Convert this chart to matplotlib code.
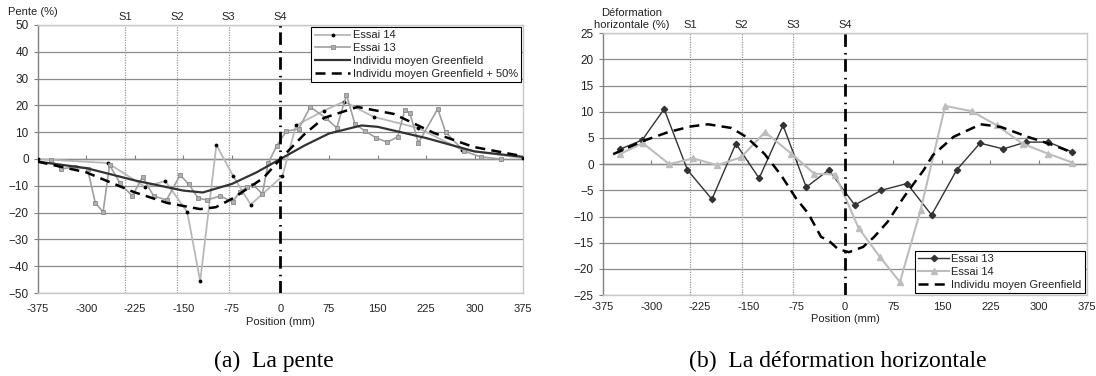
import matplotlib
matplotlib.use('Agg')
import matplotlib.pyplot as plt
import numpy as np

plt.rcParams['font.family'] = ['Liberation Sans', 'DejaVu Sans']

# ---------------- shared ----------------
positions = [-375, -300, -225, -150, -75, 0, 75, 150, 225, 300, 375]
section_labels = ['S1', 'S2', 'S3', 'S4']
section_pos = [-240, -160, -80, 0]

# ---------------- (a) La pente ----------------
a_e14_x = [-375, -267, -209, -178, -144, -124, -99, -73, -46, 3, 24, 67, 98, 144, 212, 280, 375]
a_e14_y = [0, -1.5, -10.4, -8.2, -19.8, -45.6, 5.2, -6.4, -17.0, -6.4, 12.5, 18.0, 21.4, 15.7, 11.6, 3.5, 0.3]

a_e13_x = [-355, -339, -318, -298, -286, -274, -264, -248, -229, -213, -196, -176, -155,
           -142, -127, -113, -93, -74, -63, -51, -42, -28, -19, -6, 9, 28, 46, 70, 87,
           102, 115, 131, 148, 165, 181, 192, 200, 213, 243, 255, 283, 309, 340]
a_e13_y = [-0.5, -3.7, -3.0, -3.7, -16.4, -19.8, -2.2, -9.0, -13.8, -6.7, -13.8, -15.3, -6.0,
           -9.3, -14.6, -15.3, -13.8, -16.0, -12.3, -10.5, -9.7, -13.0, -1.6, 4.8, 10.4, 11.2, 19.4, 15.3, 11.6,
           24.0, 13.0, 10.4, 7.8, 6.3, 8.2, 18.3, 17.0, 6.0, 18.7, 10.0, 3.0, 0.8, 0.0]

a_gf_x = [-375, -300, -225, -150, -120, -75, -37, 0, 37, 75, 125, 150, 225, 300, 375]
a_gf_y = [-1.0, -3.4, -8.0, -11.8, -12.5, -9.3, -5.0, 0.0, 5.0, 9.5, 12.5, 12.0, 7.8, 2.8, 0.8]

a_gf50_x = [-375, -300, -227, -175, -124, -100, -73, -26, 0, 36, 67, 119, 175, 237, 298, 375]
a_gf50_y = [-1.0, -5.0, -12.3, -16.4, -18.7, -18.0, -14.6, -7.0, 0.0, 9.0, 15.3, 19.4, 16.8, 9.7, 4.5, 1.0]

# ---------------- (b) La deformation horizontale ----------------
b_e13_x = [-349, -314, -280, -244, -206, -169, -133, -96, -60, -25, 15, 56, 96, 134, 173, 209, 245, 280, 315, 352]
b_e13_y = [2.8, 4.6, 10.5, -1.1, -6.7, 3.9, -2.7, 7.4, -4.4, -1.1, -7.8, -5.0, -3.7, -9.7, -1.1, 4.0, 2.9, 4.2, 4.2, 2.3]

b_e14_x = [-349, -313, -272, -235, -198, -161, -124, -83, -48, -15, 21, 54, 85, 117, 155, 196, 235, 275, 314, 352]
b_e14_y = [1.9, 4.0, 0.0, 1.1, -0.2, 1.3, 6.1, 2.0, -1.8, -2.0, -12.2, -17.7, -22.5, -8.8, 11.1, 10.1, 7.4, 3.9, 2.0, 0.3]

b_gf_x = [-359, -313, -274, -238, -212, -176, -153, -125, -99, -76, -57, -37, -26, -11, 6, 28, 45,
          66, 91, 122, 136, 168, 210, 241, 283, 323, 354]
b_gf_y = [1.9, 4.4, 6.1, 7.2, 7.6, 6.9, 5.2, 2.0, -2.1, -6.5, -9.4, -13.9, -14.5, -16.2, -16.8, -15.8, -13.9,
          -11.0, -6.3, -1.1, 1.7, 5.2, 7.6, 7.1, 5.2, 3.6, 2.1]

# ---------------- figure ----------------
fig = plt.figure(figsize=(10.96, 3.76), dpi=100)
axa = fig.add_axes([0.0344, 0.2207, 0.443, 0.713])
axb = fig.add_axes([0.550, 0.215, 0.442, 0.697])

GRID = '#8c8c8c'
BORDER = '#c8c8c8'
TXT = '#222222'


def style(ax, lim, step, xpad):
    ax.set_xlim(-375, 375)
    ax.set_ylim(-lim, lim)
    ax.set_xticks(positions)
    ax.set_xticklabels([str(p) for p in positions])
    ax.set_yticks(np.arange(-lim, lim + step / 2, step))
    ax.yaxis.grid(True, color=GRID, lw=0.9)
    ax.xaxis.grid(False)
    ax.set_axisbelow(True)
    for s in ['top', 'right', 'bottom']:
        ax.spines[s].set_color(BORDER)
        ax.spines[s].set_linewidth(1.0)
    ax.spines['left'].set_color('#808080')
    ax.spines['left'].set_linewidth(1.0)
    ax.tick_params(axis='x', length=0, labelsize=8, pad=xpad, colors=TXT)
    ax.tick_params(axis='y', length=3, direction='out', labelsize=8.5, colors=TXT, color='#808080')
    sec = ax.secondary_xaxis(0.5)
    sec.set_xticks(positions)
    sec.xaxis.set_ticks_position('top')
    sec.tick_params(axis='x', direction='out', length=3, labeltop=False, labelbottom=False, color='#808080')
    for s in sec.spines.values():
        s.set_color('#808080')
        s.set_linewidth(1.0)
    # sections
    for p, lab in zip(section_pos, section_labels):
        if lab == 'S4':
            ax.axvline(p, color='black', lw=2.0, linestyle=(0, (4.5, 1.7, 0.55, 2.2)), zorder=5)
        else:
            ax.axvline(p, color='#9a9a9a', lw=0.9, linestyle=(0, (1, 1)), zorder=1)
        ax.text(p, 1.012, lab, transform=ax.get_xaxis_transform(), ha='center', va='bottom',
                fontsize=8, color=TXT)


style(axa, 50, 10, 8)
style(axb, 25, 5, 5)

# (a) series
axa.plot(a_e14_x, a_e14_y, color='#b8b8b8', lw=1.3, marker='.', ms=3.5, mfc='black', mec='black',
         label='Essai 14', zorder=3)
axa.plot(a_e13_x, a_e13_y, color='#a0a0a0', lw=1.2, marker='s', ms=3, mfc='#b0b0b0', mec='#8a8a8a',
         mew=0.6, label='Essai 13', zorder=3)
axa.plot(a_gf_x, a_gf_y, color='#333333', lw=1.6, label='Individu moyen Greenfield', zorder=4)
axa.plot(a_gf50_x, a_gf50_y, color='black', lw=1.8, linestyle=(0, (4, 2.5)),
         label='Individu moyen Greenfield + 50%', zorder=4)

leg = axa.legend(loc='upper right', fontsize=8, frameon=True, fancybox=False, edgecolor='black',
                 framealpha=1, borderaxespad=0.2, handlelength=3.2, labelspacing=0.25,
                 borderpad=0.3, handletextpad=0.2)
leg.get_frame().set_linewidth(0.8)
for t in leg.get_texts():
    t.set_color(TXT)

# (b) series
axb.plot(b_e13_x, b_e13_y, color='#333333', lw=1.0, marker='D', ms=3.2, mfc='#333333', mec='#333333',
         label='Essai 13', zorder=3)
axb.plot(b_e14_x, b_e14_y, color='#bdbdbd', lw=1.5, marker='^', ms=4, mfc='#bdbdbd', mec='#bdbdbd',
         label='Essai 14', zorder=3)
axb.plot(b_gf_x, b_gf_y, color='black', lw=1.8, linestyle=(0, (4, 2.5)),
         label='Individu moyen Greenfield', zorder=4)

legb = axb.legend(loc='lower right', fontsize=8, frameon=True, fancybox=False, edgecolor='black',
                  framealpha=1, borderaxespad=0.2, handlelength=2.8, labelspacing=0.25,
                  borderpad=0.3, handletextpad=0.2)
legb.get_frame().set_linewidth(0.8)
for t in legb.get_texts():
    t.set_color(TXT)

# axis titles
axa.set_xlabel('Position (mm)', fontsize=8, color=TXT)
axa.xaxis.set_label_coords(0.5, -0.108)
axa.xaxis.label.set_va('center')
axb.set_xlabel('Position (mm)', fontsize=8, color=TXT)
axb.xaxis.set_label_coords(0.5, -0.09)
axb.xaxis.label.set_va('center')

fig.text(8 / 1096, 1 - 12 / 376, 'Pente (%)', ha='left', va='center', fontsize=8, color=TXT)
fig.text(632 / 1096, 1 - 19 / 376, 'Déformation\nhorizontale (%)', ha='center', va='center',
         fontsize=8, color=TXT, multialignment='center', linespacing=1.2)

# captions
fig.text(274 / 1096, 1 - 361 / 376, '(a)  La pente', ha='center', va='center', fontsize=17,
         family='Liberation Serif', color='black')
fig.text(838 / 1096, 1 - 361 / 376, '(b)  La déformation horizontale', ha='center', va='center',
         fontsize=17, family='Liberation Serif', color='black')

fig.savefig('out.png', dpi=100)
